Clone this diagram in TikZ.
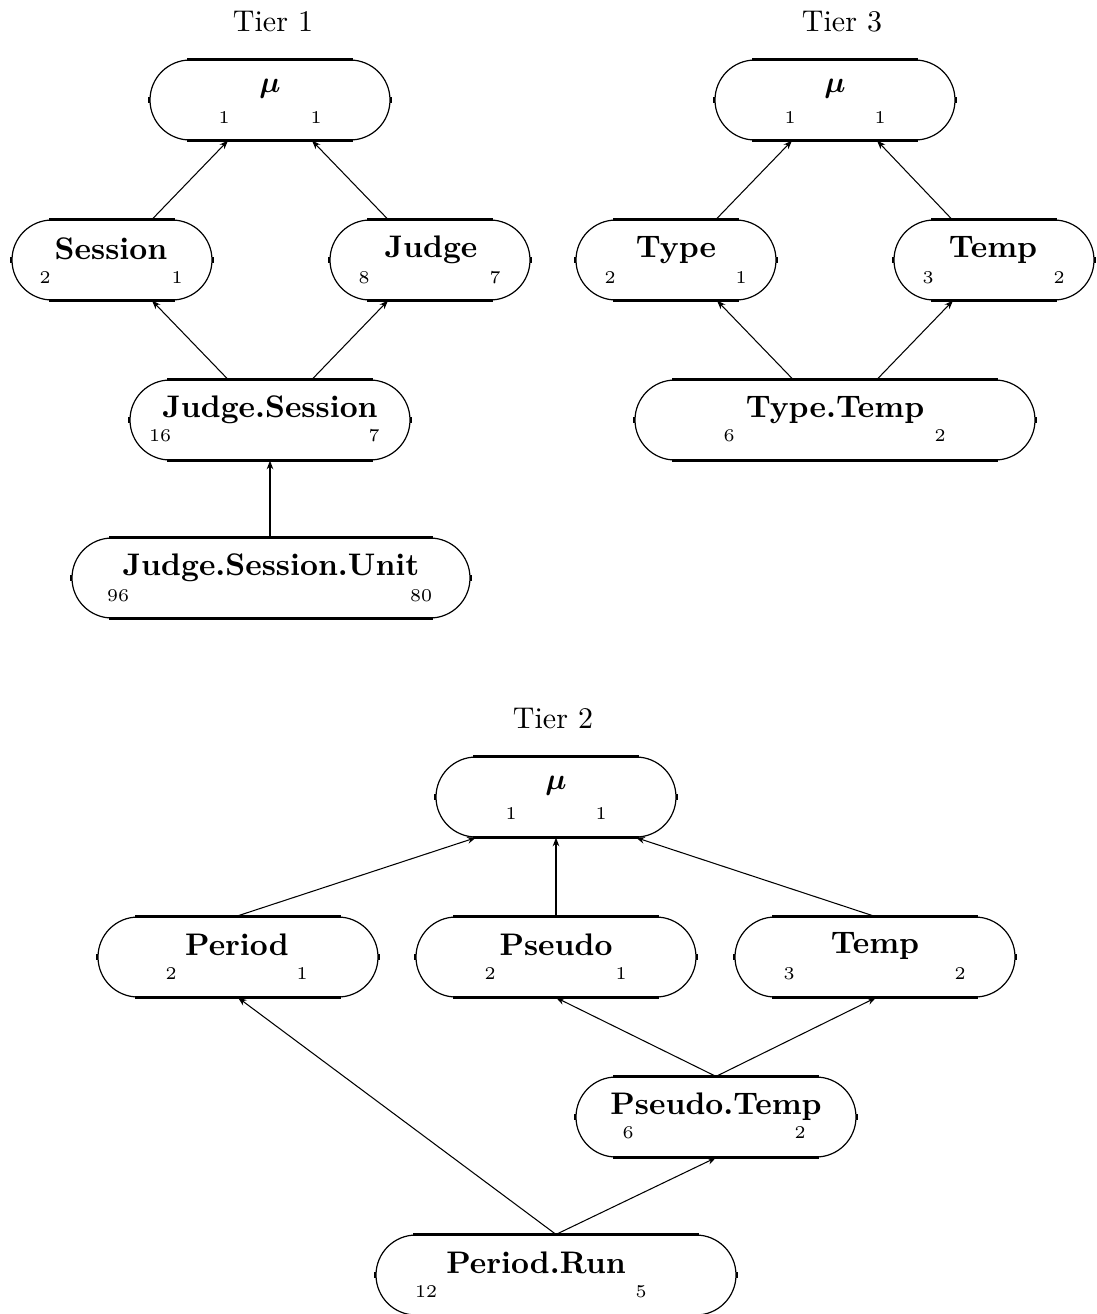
\documentclass[tikz,border=0pt]{standalone}
\usepackage{amsmath}
\usetikzlibrary{arrows.meta}
\begin{document}
\begin{tikzpicture}[x=0.33333pt,y=-0.33333pt,
  pill/.style={draw,rectangle,rounded corners=13.333pt,minimum height=26.667pt,
    minimum width={#1pt/3},inner sep=0pt,line width=0.4pt},
  ttl/.style={anchor=base,inner sep=0pt,font=\fontsize{10.4}{12}\selectfont\bfseries},
  num/.style={anchor=base,inner sep=0pt,font=\fontsize{6}{7}\selectfont},
  tier/.style={anchor=base,inner sep=0pt},
  edge/.style={line width=0.35pt,-{Stealth[length=2.9pt,width=2.2pt]}},
  trunk/.style={edge,line width=0.7pt},
  rim/.style={line width=0.9pt},
  tick/.style={line width=0.7pt}]
\useasboundingbox (0,0) rectangle (1097,1314);

% ---------------- Tier 1 ----------------
\node[tier] (tier1) at (273,31) {Tier 1};
\node[pill=240] (t1mu) at (270,100) {};
\node[ttl] (t1mu-t) at ([shift={(0,33)}]t1mu.north) {$\boldsymbol{\mu}$};
\node[num] (t1mu-l) at ([shift={(-46,64)}]t1mu.north) {1};
\node[num] (t1mu-r) at ([shift={(46,64)}]t1mu.north) {1};

\node[pill=200] (t1sess) at (112,260) {};
\node[ttl] (t1sess-t) at ([shift={(-1,40)}]t1sess.north) {Session};
\node[num] (t1sess-l) at ([shift={(-67,64)}]t1sess.north) {2};
\node[num] (t1sess-r) at ([shift={(65,64)}]t1sess.north) {1};

\node[pill=200] (t1judge) at (430,260) {};
\node[ttl] (t1judge-t) at ([shift={(1,38)}]t1judge.north) {Judge};
\node[num] (t1judge-l) at ([shift={(-66,64)}]t1judge.north) {8};
\node[num] (t1judge-r) at ([shift={(65,64)}]t1judge.north) {7};

\node[pill=280] (t1js) at (270,420) {};
\node[ttl] (t1js-t) at ([shift={(0,38)}]t1js.north) {Judge.Session};
\node[num] (t1js-l) at ([shift={(-110,62)}]t1js.north) {16};
\node[num] (t1js-r) at ([shift={(104,62)}]t1js.north) {7};

\node[pill=398] (t1jsu) at (271,578) {};
\node[ttl] (t1jsu-t) at ([shift={(0,38)}]t1jsu.north) {Judge.Session.Unit};
\node[num] (t1jsu-l) at ([shift={(-153,64)}]t1jsu.north) {96};
\node[num] (t1jsu-r) at ([shift={(150,64)}]t1jsu.north) {80};

\draw[edge] ([shift={(40,0)}]t1sess.north) -- ([shift={(-42,0)}]t1mu.south);
\draw[edge] ([shift={(-42,0)}]t1judge.north) -- ([shift={(42,0)}]t1mu.south);
\draw[edge] ([shift={(-42,0)}]t1js.north) -- ([shift={(40,0)}]t1sess.south);
\draw[edge] ([shift={(42,0)}]t1js.north) -- ([shift={(-42,0)}]t1judge.south);
\draw[trunk] ([shift={(-1,0)}]t1jsu.north) -- (t1js.south);

% ---------------- Tier 3 ----------------
\node[tier] (tier3) at (842,31) {Tier 3};
\node[pill=240] (t3mu) at (835,100) {};
\node[ttl] (t3mu-t) at ([shift={(0,33)}]t3mu.north) {$\boldsymbol{\mu}$};
\node[num] (t3mu-l) at ([shift={(-45,64)}]t3mu.north) {1};
\node[num] (t3mu-r) at ([shift={(45,64)}]t3mu.north) {1};

\node[pill=200] (t3type) at (676,260) {};
\node[ttl] (t3type-t) at ([shift={(0,38)}]t3type.north) {Type};
\node[num] (t3type-l) at ([shift={(-66,64)}]t3type.north) {2};
\node[num] (t3type-r) at ([shift={(65,64)}]t3type.north) {1};

\node[pill=200] (t3temp) at (994,260) {};
\node[ttl] (t3temp-t) at ([shift={(-1,38)}]t3temp.north) {Temp};
\node[num] (t3temp-l) at ([shift={(-66,64)}]t3temp.north) {3};
\node[num] (t3temp-r) at ([shift={(65,64)}]t3temp.north) {2};

\node[pill=400] (t3tt) at (835,420) {};
\node[ttl] (t3tt-t) at ([shift={(0,38)}]t3tt.north) {Type.Temp};
\node[num] (t3tt-l) at ([shift={(-106,62)}]t3tt.north) {6};
\node[num] (t3tt-r) at ([shift={(105,62)}]t3tt.north) {2};

\draw[edge] ([shift={(40,0)}]t3type.north) -- ([shift={(-43,0)}]t3mu.south);
\draw[edge] ([shift={(-42,0)}]t3temp.north) -- ([shift={(42,0)}]t3mu.south);
\draw[edge] ([shift={(-42,0)}]t3tt.north) -- ([shift={(41,0)}]t3type.south);
\draw[edge] ([shift={(42,0)}]t3tt.north) -- ([shift={(-41,0)}]t3temp.south);

% ---------------- Tier 2 ----------------
\node[tier] (tier2) at (553,728) {Tier 2};
\node[pill=240] (t2mu) at (556,797) {};
\node[ttl] (t2mu-t) at ([shift={(0,33)}]t2mu.north) {$\boldsymbol{\mu}$};
\node[num] (t2mu-l) at ([shift={(-45,63)}]t2mu.north) {1};
\node[num] (t2mu-r) at ([shift={(45,63)}]t2mu.north) {1};

\node[pill=280] (t2per) at (238,957) {};
\node[ttl] (t2per-t) at ([shift={(-1,39)}]t2per.north) {Period};
\node[num] (t2per-l) at ([shift={(-67,63)}]t2per.north) {2};
\node[num] (t2per-r) at ([shift={(64,63)}]t2per.north) {1};

\node[pill=280] (t2pse) at (556,957) {};
\node[ttl] (t2pse-t) at ([shift={(0,39)}]t2pse.north) {Pseudo};
\node[num] (t2pse-l) at ([shift={(-66,63)}]t2pse.north) {2};
\node[num] (t2pse-r) at ([shift={(65,63)}]t2pse.north) {1};

\node[pill=280] (t2temp) at (875,957) {};
\node[ttl] (t2temp-t) at ([shift={(0,37)}]t2temp.north) {Temp};
\node[num] (t2temp-l) at ([shift={(-86,63)}]t2temp.north) {3};
\node[num] (t2temp-r) at ([shift={(85,63)}]t2temp.north) {2};

\node[pill=280] (t2pt) at (716,1117) {};
\node[ttl] (t2pt-t) at ([shift={(0,38)}]t2pt.north) {Pseudo.Temp};
\node[num] (t2pt-l) at ([shift={(-88,62)}]t2pt.north) {6};
\node[num] (t2pt-r) at ([shift={(84,62)}]t2pt.north) {2};

\node[pill=360] (t2pr) at (556,1275) {};
\node[ttl] (t2pr-t) at ([shift={(-20,39)}]t2pr.north) {Period.Run};
\node[num] (t2pr-l) at ([shift={(-130,63)}]t2pr.north) {12};
\node[num] (t2pr-r) at ([shift={(85,63)}]t2pr.north) {5};

\draw[edge] ([shift={(-2,0)}]t2per.north) -- ([shift={(-80,0)}]t2mu.south);
\draw[trunk] (t2pse.north) -- (t2mu.south);
\draw[edge] (t2temp.north) -- ([shift={(80,0)}]t2mu.south);
\draw[edge] (t2pt.north) -- (t2pse.south);
\draw[edge] (t2pt.north) -- ([shift={(1,0)}]t2temp.south);
\draw[edge] (t2pr.north) -- (t2per.south);
\draw[edge] (t2pr.north) -- (t2pt.south);

% heavier straight rims and small side ticks on every pill
\foreach \n in {t1mu,t1sess,t1judge,t1js,t1jsu,t3mu,t3type,t3temp,t3tt,
                t2mu,t2per,t2pse,t2temp,t2pt,t2pr} {
  \draw[rim] ([shift={(38,0)}]\n.north west) -- ([shift={(-38,0)}]\n.north east);
  \draw[rim] ([shift={(38,0)}]\n.south west) -- ([shift={(-38,0)}]\n.south east);
  \draw[tick] ([shift={(0,-3)}]\n.west) -- ([shift={(0,3)}]\n.west);
  \draw[tick] ([shift={(0,-3)}]\n.east) -- ([shift={(0,3)}]\n.east);
}
\end{tikzpicture}
\end{document}
